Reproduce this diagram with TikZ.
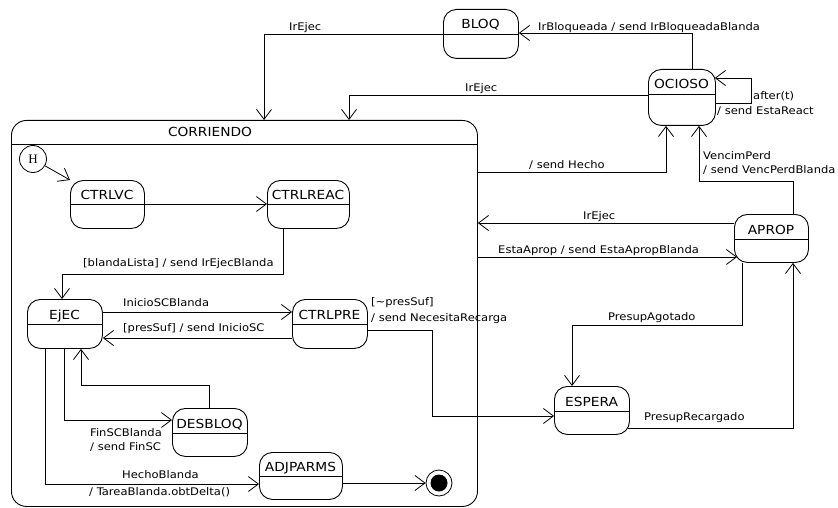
\documentclass[tikz,border=0pt]{standalone}
\usepackage{fontspec}
\setmainfont{DejaVu Sans}[FakeStretch=1.1]
\newfontfamily\hserif{Liberation Serif}
\usetikzlibrary{arrows.meta}
\newcommand\mylabfont{\fontsize{10.5}{12}\selectfont}
\newcommand\mynamefont{\fontsize{12.5}{14}\selectfont}
\tikzset{
  stbox/.style={draw, rectangle, rounded corners=13pt, inner sep=0pt, line width=0.9pt},
  stname/.style={font=\mynamefont, inner sep=0pt},
  lab/.style={font=\mylabfont, inner sep=0pt, anchor=base west},
  tr/.style={draw, line width=0.8pt, -{Straight Barb[length=10pt,width=15pt]}}
}
\newcommand\umlstate[7]{%
  \node[stbox, minimum width={#4-#2}, minimum height={#5-#3}, anchor=north west] (#1) at (#2,#3) {};
  \draw[line width=0.9pt] (#1.west |- 0,#6) -- (#1.east |- 0,#6);
  \node[stname, anchor=base] (#1-name) at ({(#2+#4)/2},{#6-5}) {#7};
}
\begin{document}
\begin{tikzpicture}[x=1pt,y=-1pt]
\useasboundingbox[fill=white] (0,0) rectangle (838,508);

% composite state
\node[stbox, rounded corners=15pt, minimum width=466, minimum height=386, anchor=north west] (corr) at (11,120) {};
\draw[line width=0.9pt] (corr.west |- 0,144) -- (corr.east |- 0,144);
\node[stname, anchor=base] (corrname) at (210,137) {CORRIENDO};

% simple states
\umlstate{bloq}{443}{9}{518}{58}{34}{BLOQ}
\umlstate{ocioso}{648}{69}{715}{125}{94}{OCIOSO}
\umlstate{aprop}{734}{214}{808}{262}{239}{APROP}
\umlstate{espera}{554}{386}{629}{434}{411}{ESPERA}
\umlstate{ctrlvc}{70}{180}{144}{228}{204}{CTRLVC}
\umlstate{ctrlreac}{267}{180}{349}{228}{204}{CTRLREAC}
\umlstate{ejec}{27}{299}{102}{348}{324}{EjEC}
\umlstate{ctrlpre}{292}{299}{367}{348}{324}{CTRLPRE}
\umlstate{desbloq}{172}{408}{247}{456}{433}{DESBLOQ}
\umlstate{adj}{259}{452}{342}{499}{476}{ADJPARMS}

% history and final
\node[circle, draw, line width=0.8pt, minimum size=27pt, inner sep=0pt, font=\hserif\fontsize{13}{13}\selectfont] (h) at (33,159) {H};
\node[circle, draw, line width=0.8pt, minimum size=26pt, inner sep=0pt] (final) at (439,483) {};
\node[circle, fill=black, minimum size=17pt, inner sep=0pt] (finalin) at (final) {};

% transitions
\draw[tr] (bloq.west) -- (264,0 |- bloq.west) -- (264,0 |- corr.north);
\draw[tr] (692,0 |- ocioso.north) -- (692,33) -- (bloq.east |- 0,33);
\draw[tr] (ocioso.west |- 0,95) -- (349,95) -- (349,0 |- corr.north);
\draw[tr] (ocioso.east |- 0,103) -- (751,103) -- (751,78) -- ([xshift=-1pt]ocioso.east |- 0,78);
\draw[tr] (corr.east |- 0,172) -- (666,172) -- (666,0 |- ocioso.south);
\draw[tr] (793,0 |- aprop.north) -- (793,181) -- (699,181) -- (699,0 |- ocioso.south);
\draw[tr] (aprop.west |- 0,223) -- (corr.east |- 0,223);
\draw[tr] (corr.east |- 0,257) -- ([xshift=3pt]aprop.west |- 0,257);
\draw[tr] (742,0 |- aprop.south) -- (742,325) -- (572,325) -- (572,0 |- espera.north);
\draw[tr] ([xshift=-2pt]espera.east |- 0,428) -- (793,428) -- (793,0 |- aprop.south);
\draw[tr] (ctrlpre.east |- 0,330) -- (432,330) -- (432,416) -- (espera.west |- 0,416);
\draw[tr] (h) -- (ctrlvc.north west);
\draw[tr] (ctrlvc.east |- 0,204) -- (ctrlreac.west |- 0,204);
\draw[tr] (283,0 |- ctrlreac.south) -- (283,274) -- (62,274) -- (62,0 |- ejec.north);
\draw[tr] (ejec.east |- 0,312) -- (ctrlpre.west |- 0,312);
\draw[tr] (ctrlpre.west |- 0,338) -- (ejec.east |- 0,338);
\draw[tr] (64,0 |- ejec.south) -- (64,420) -- (desbloq.west |- 0,420);
\draw[tr] (209,0 |- desbloq.north) -- (209,385) -- (81,385) -- (81,0 |- ejec.south);
\draw[tr] (45,0 |- ejec.south) -- (45,484) -- (adj.west |- 0,484);
\draw[tr] (adj.east |- final) -- (final);

% labels
\node[lab] (l1) at (289,31) {IrEjec};
\node[lab] (l2) at (538,31) {IrBloqueada / send IrBloqueadaBlanda};
\node[lab] (l3) at (465,92) {IrEjec};
\node[lab] (l4) at (753,100) {after(t)};
\node[lab] (l5) at (717,115) {/ send EstaReact};
\node[lab] (l6) at (529,168) {/ send Hecho};
\node[lab] (l7) at (703,160) {VencimPerd};
\node[lab] (l8) at (703,174) {/ send VencPerdBlanda};
\node[lab] (l9) at (583,219) {IrEjec};
\node[lab] (l10) at (498,253) {EstaAprop / send EstaApropBlanda};
\node[lab] (l11) at (83,266) {[blandaLista] / send IrEjecBlanda};
\node[lab] (l12) at (123,306) {InicioSCBlanda};
\node[lab] (l13) at (123,331) {[presSuf] / send InicioSC};
\node[lab] (l14) at (371,305) {[\textasciitilde presSuf]};
\node[lab] (l15) at (371,321) {/ send NecesitaRecarga};
\node[lab] (l16) at (90,436) {FinSCBlanda};
\node[lab] (l17) at (90,450) {/ send FinSC};
\node[lab] (l18) at (122,478) {HechoBlanda};
\node[lab] (l19) at (89,495) {/ TareaBlanda.obtDelta()};
\node[lab] (l20) at (608,320) {PresupAgotado};
\node[lab] (l21) at (644,420) {PresupRecargado};
\end{tikzpicture}
\end{document}
